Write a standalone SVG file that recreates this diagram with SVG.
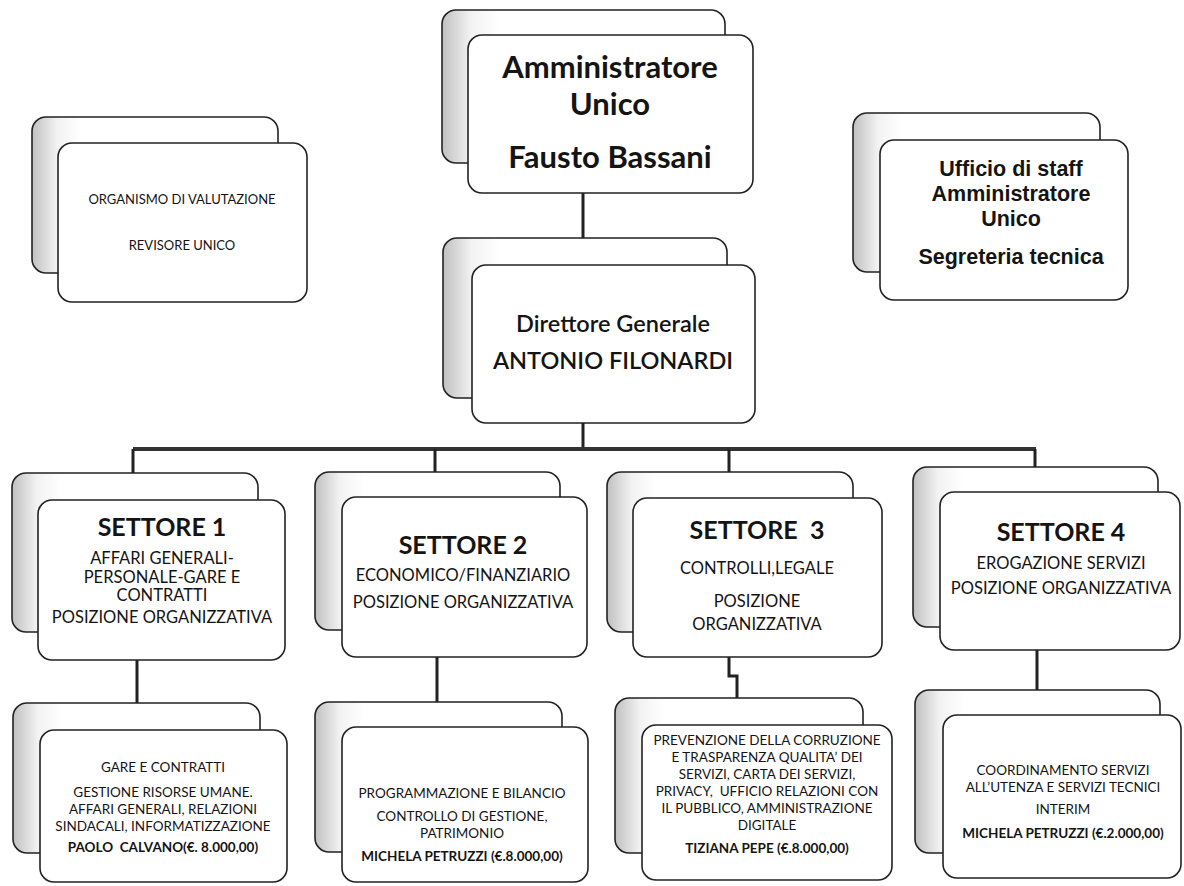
<svg xmlns="http://www.w3.org/2000/svg" width="1184" height="886" viewBox="0 0 1184 886">
<defs>
<linearGradient id="shade" x1="0" y1="0" x2="1" y2="0">
<stop offset="0" stop-color="#c0c0c0"/>
<stop offset="0.1" stop-color="#f2f2f2"/>
<stop offset="0.2" stop-color="#ffffff"/>
</linearGradient>
<style>
.back{fill:url(#shade);stroke:#222;stroke-width:1.6}
.front{fill:#fff;stroke:#222;stroke-width:1.6}
text{font-family:Lato,"Liberation Sans",sans-serif;fill:#141414;text-anchor:middle}
.t1{font-size:31px;font-weight:bold}
.t2{font-family:"Liberation Sans",Lato,sans-serif;font-size:21.5px;font-weight:bold}
.t3{font-size:23.5px;font-weight:600}
.st{font-size:25px;font-weight:bold}
.sb{font-size:16.5px}
.sm{font-size:13.5px}
.smb{font-size:13.5px;font-weight:bold}
.od{font-size:13px}
.conn{fill:none;stroke:#222;stroke-width:3}
.bus{fill:none;stroke:#333;stroke-width:4}
</style>
</defs>
<g id="connectors">
<path class="conn" d="M583 193 V238"/>
<path class="conn" d="M583 423 V449"/>
<path class="bus" d="M133 449 H1036"/>
<path class="conn" d="M133 449 V473"/>
<path class="conn" d="M435 449 V472"/>
<path class="conn" d="M729 449 V472"/>
<path class="conn" d="M1035 449 V467"/>
<path class="conn" d="M137 660 V703"/>
<path class="conn" d="M437 657 V702"/>
<path class="conn" d="M729 657 V676 H737 V698"/>
<path class="conn" d="M1037 650 V690"/>
</g>
<g id="amministratore">
<rect class="back" x="442" y="10" width="283" height="153" rx="14"/>
<rect class="front" x="468" y="35" width="285" height="158" rx="14"/>
<text class="t1" x="610" y="78">Amministratore<tspan x="610" y="115">Unico</tspan><tspan x="610" y="168">Fausto Bassani</tspan></text>
</g>
<g id="organismo">
<rect class="back" x="32" y="117" width="246" height="156" rx="14"/>
<rect class="front" x="58" y="143" width="249" height="159" rx="14"/>
<text class="od" x="182" y="204">ORGANISMO DI VALUTAZIONE</text>
<text class="od" x="182" y="250">REVISORE UNICO</text>
</g>
<g id="staff">
<rect class="back" x="853" y="113" width="247" height="159" rx="14"/>
<rect class="front" x="880" y="140" width="248" height="160" rx="14"/>
<text class="t2" x="1011" y="176">Ufficio di staff<tspan x="1011" y="201">Amministratore</tspan><tspan x="1011" y="226">Unico</tspan><tspan x="1011" y="264">Segreteria tecnica</tspan></text>
</g>
<g id="direttore">
<rect class="back" x="443" y="238" width="284" height="160" rx="14"/>
<rect class="front" x="472" y="265" width="283" height="158" rx="14"/>
<text class="t3" x="613" y="332">Direttore Generale</text>
<text class="t3" x="613" y="369">ANTONIO FILONARDI</text>
</g>
<g id="settore1">
<rect class="back" x="12" y="473" width="246" height="159" rx="14"/>
<rect class="front" x="38" y="500" width="247" height="160" rx="14"/>
<text class="st" x="162" y="536">SETTORE 1</text>
<text class="sb" x="162" y="564">AFFARI GENERALI-<tspan x="162" y="583">PERSONALE-GARE E</tspan><tspan x="162" y="601">CONTRATTI</tspan></text>
<text class="sb" x="162" y="623">POSIZIONE ORGANIZZATIVA</text>
</g>
<g id="settore2">
<rect class="back" x="315" y="472" width="245" height="158" rx="14"/>
<rect class="front" x="342" y="497" width="245" height="160" rx="14"/>
<text class="st" x="463" y="554">SETTORE 2</text>
<text class="sb" x="463" y="581">ECONOMICO/FINANZIARIO</text>
<text class="sb" x="463" y="608">POSIZIONE ORGANIZZATIVA</text>
</g>
<g id="settore3">
<rect class="back" x="607" y="472" width="246" height="160" rx="14"/>
<rect class="front" x="633" y="498" width="249" height="159" rx="14"/>
<text class="st" x="757" y="539" xml:space="preserve">SETTORE  3</text>
<text class="sb" x="757" y="574">CONTROLLI,LEGALE</text>
<text class="sb" x="757" y="607">POSIZIONE<tspan x="757" y="630">ORGANIZZATIVA</tspan></text>
</g>
<g id="settore4">
<rect class="back" x="913" y="467" width="245" height="160" rx="14"/>
<rect class="front" x="940" y="492" width="240" height="158" rx="14"/>
<text class="st" x="1061" y="541">SETTORE 4</text>
<text class="sb" x="1061" y="569">EROGAZIONE SERVIZI</text>
<text class="sb" x="1061" y="594">POSIZIONE ORGANIZZATIVA</text>
</g>
<g id="ufficio1">
<rect class="back" x="13" y="703" width="247" height="150" rx="14"/>
<rect class="front" x="40" y="730" width="247" height="152" rx="14"/>
<text class="sm" x="163" y="772">GARE E CONTRATTI</text>
<text class="sm" x="163" y="797">GESTIONE RISORSE UMANE.<tspan x="163" y="814">AFFARI GENERALI, RELAZIONI</tspan><tspan x="163" y="831">SINDACALI, INFORMATIZZAZIONE</tspan></text>
<text class="smb" x="163" y="852" xml:space="preserve">PAOLO  CALVANO(€. 8.000,00)</text>
</g>
<g id="ufficio2">
<rect class="back" x="315" y="702" width="247" height="150" rx="14"/>
<rect class="front" x="342" y="727" width="246" height="155" rx="14"/>
<text class="sm" x="462" y="798">PROGRAMMAZIONE E BILANCIO</text>
<text class="sm" x="462" y="821">CONTROLLO DI GESTIONE,<tspan x="462" y="838">PATRIMONIO</tspan></text>
<text class="smb" x="462" y="861">MICHELA PETRUZZI (€.8.000,00)</text>
</g>
<g id="ufficio3">
<rect class="back" x="615" y="698" width="248" height="155" rx="14"/>
<rect class="front" x="642" y="725" width="250" height="155" rx="14"/>
<text class="sm" x="767" y="745">PREVENZIONE DELLA CORRUZIONE<tspan x="767" y="762">E TRASPARENZA QUALITA’ DEI</tspan><tspan x="767" y="779">SERVIZI, CARTA DEI SERVIZI,</tspan><tspan x="767" y="796" xml:space="preserve">PRIVACY,  UFFICIO RELAZIONI CON</tspan><tspan x="767" y="813">IL PUBBLICO, AMMINISTRAZIONE</tspan><tspan x="767" y="830">DIGITALE</tspan></text>
<text class="smb" x="767" y="853">TIZIANA PEPE (€.8.000,00)</text>
</g>
<g id="ufficio4">
<rect class="back" x="915" y="690" width="245" height="163" rx="14"/>
<rect class="front" x="943" y="715" width="238" height="163" rx="14"/>
<text class="sm" x="1063" y="775">COORDINAMENTO SERVIZI<tspan x="1063" y="792">ALL’UTENZA E SERVIZI TECNICI</tspan></text>
<text class="sm" x="1063" y="814">INTERIM</text>
<text class="smb" x="1063" y="838">MICHELA PETRUZZI (€.2.000,00)</text>
</g>
</svg>
